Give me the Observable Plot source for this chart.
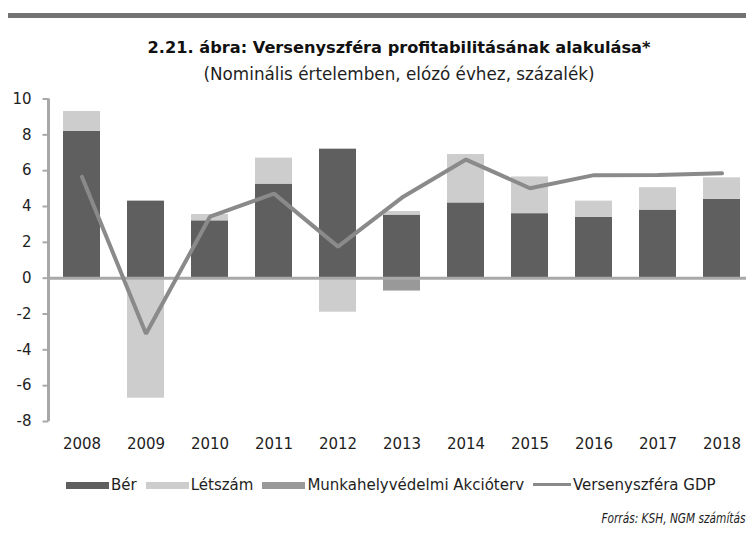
<!DOCTYPE html>
<html>
<head>
<meta charset="utf-8">
<script src="https://cdn.jsdelivr.net/npm/d3@7"></script>
<script src="https://cdn.jsdelivr.net/npm/@observablehq/plot@0.6"></script>
<style>
  html, body { margin: 0; padding: 0; background: #fff; }
  #root { position: relative; width: 746px; height: 545px; overflow: hidden; font-family: "DejaVu Sans", sans-serif; color: #1e1e1e; }
  .topbar { position: absolute; left: 8px; right: 0; top: 13px; height: 5px; background: #727272; }
  .title { position: absolute; left: 52px; width: 694px; top: 39.5px; text-align: center; font-weight: bold; font-size: 16.2px; line-height: 16px; white-space: nowrap; color: #111; }
  .subtitle { position: absolute; left: 52px; width: 694px; top: 65.5px; text-align: center; font-size: 16.8px; line-height: 16px; white-space: nowrap; }
  #chart { position: absolute; left: 0; top: 0; }
  #chart svg { overflow: visible; }
  .legend { position: absolute; left: 66px; top: 478px; display: flex; align-items: center; font-size: 15px; line-height: 15px; white-space: nowrap; }
  .legend .sw { width: 43px; height: 7px; margin-right: 2px; }
  .legend .ln { width: 38px; height: 3px; margin-right: 2px; margin-top: -3px; }
  .legend .lab { margin-right: 9px; }
  .caption { position: absolute; right: 1px; top: 511px; font-family: "Liberation Sans Narrow", "DejaVu Sans Condensed", sans-serif; font-style: italic; font-size: 14px; line-height: 14px; white-space: nowrap; transform: scaleX(0.84); transform-origin: right center; }
</style>
</head>
<body>
<div id="root">
  <div class="topbar"></div>
  <div id="chart"></div>
  <div class="title" id="title"></div>
  <div class="subtitle" id="subtitle"></div>
  <div class="legend" id="legend"></div>
  <div class="caption" id="caption"></div>
</div>
<script>
// ---- data ----
const years = ["2008","2009","2010","2011","2012","2013","2014","2015","2016","2017","2018"];
const ber = [8.2, 4.3, 3.2, 5.25, 7.2, 3.52, 4.2, 3.6, 3.4, 3.8, 4.4];
const letszam = [1.1, -6.7, 0.35, 1.45, -1.9, 0.2, 2.7, 2.05, 0.9, 1.25, 1.2];
const akcioterv = [0, 0, 0, 0, 0, -0.72, 0, 0, 0, 0, 0];
const gdp = [5.65, -3.1, 3.43, 4.72, 1.76, 4.5, 6.62, 5.02, 5.75, 5.76, 5.85];
const yTicks = [-8, -6, -4, -2, 0, 2, 4, 6, 8, 10];
const seriesNames = ["Bér", "Létszám", "Munkahelyvédelmi Akcióterv"];
const lineName = "Versenyszféra GDP";
const seriesColors = ["#5f5f5f", "#cdcdcd", "#999999"];
const lineColor = "#8a8a8a";
const titleText = "2.21. ábra: Versenyszféra profitabilitásának alakulása*";
const subtitleText = "(Nominális értelemben, elózó évhez, százalék)";
const captionText = "Forrás: KSH, NGM számítás";

// ---- build tables ----
const barData = [];
[ber, letszam, akcioterv].forEach((arr, s) => {
  years.forEach((yr, i) => barData.push({year: yr, series: seriesNames[s], value: arr[i]}));
});
const lineData = years.map((yr, i) => ({year: yr, value: gdp[i]}));

const axisColor = "#a8a8a8";

const axisLine = (index, scales, values, dimensions) => {
  const g = d3.create("svg:g");
  g.append("line")
    .attr("x1", dimensions.marginLeft).attr("x2", dimensions.marginLeft)
    .attr("y1", scales.y(10)).attr("y2", scales.y(-8))
    .attr("stroke", axisColor).attr("stroke-width", 3);
  return g.node();
};

const chart = Plot.plot({
  width: 746,
  height: 460,
  marginLeft: 48.5,
  marginRight: 0,
  marginTop: 98.5,
  marginBottom: 39,
  style: {fontFamily: "DejaVu Sans, sans-serif", fontSize: "15px", color: "#1e1e1e", background: "transparent", overflow: "visible"},
  x: {type: "band", domain: years, range: [48.5, 755.5], paddingInner: 0.42, paddingOuter: 0.21, label: null},
  y: {domain: [-8, 10], label: null},
  color: {domain: seriesNames, range: seriesColors},
  marks: [
    Plot.barY(barData, {x: "year", y: "value", fill: "series"}),
    Plot.ruleY([0], {stroke: axisColor, strokeWidth: 3}),
    axisLine,
    Plot.axisY({ticks: yTicks, label: null, tickSize: 6, tickPadding: 11.5, stroke: axisColor, strokeWidth: 2, color: "#1e1e1e", fill: "#1e1e1e", tickFormat: d => String(d).replace("−", "-")}),
    Plot.axisX({anchor: "bottom", label: null, tickSize: 0, tickPadding: 17, color: "#1e1e1e", fill: "#1e1e1e"}),
    Plot.lineY(lineData, {x: "year", y: "value", stroke: lineColor, strokeWidth: 4, strokeLinejoin: "miter"})
  ]
});
document.getElementById("chart").appendChild(chart);

document.getElementById("title").textContent = titleText;
document.getElementById("subtitle").textContent = subtitleText;
document.getElementById("caption").textContent = captionText;

const legend = document.getElementById("legend");
seriesNames.forEach((name, i) => {
  const sw = document.createElement("span");
  sw.className = "sw"; sw.style.background = seriesColors[i];
  const lab = document.createElement("span");
  lab.className = "lab"; lab.textContent = name;
  legend.appendChild(sw); legend.appendChild(lab);
});
{
  const ln = document.createElement("span");
  ln.className = "ln"; ln.style.background = lineColor;
  const lab = document.createElement("span");
  lab.textContent = lineName;
  legend.appendChild(ln); legend.appendChild(lab);
}
</script>
</body>
</html>
